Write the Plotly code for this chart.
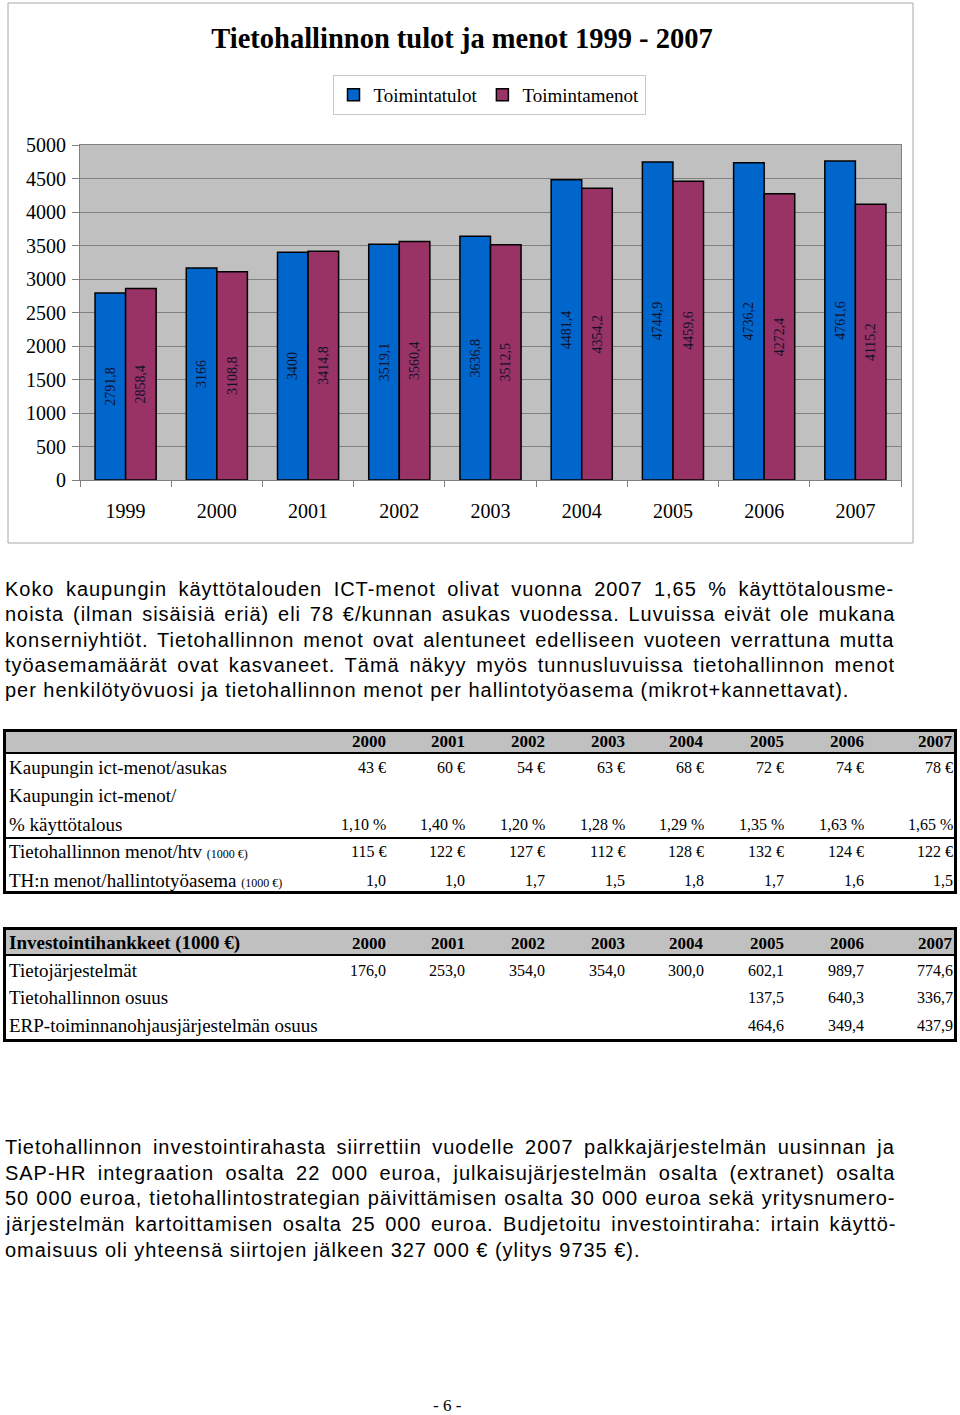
import plotly.graph_objects as go

# ---------------- data ----------------
years = ['1999', '2000', '2001', '2002', '2003', '2004', '2005', '2006', '2007']
tulot = [2791.8, 3166, 3400, 3519.1, 3636.8, 4481.4, 4744.9, 4736.2, 4761.6]
menot = [2858.4, 3108.8, 3414.8, 3560.4, 3512.5, 4354.2, 4459.6, 4272.4, 4115.2]
series_names = ['Toimintatulot', 'Toimintamenot']
y_ticks = [0, 500, 1000, 1500, 2000, 2500, 3000, 3500, 4000, 4500, 5000]

tbl_years = ['2000', '2001', '2002', '2003', '2004', '2005', '2006', '2007']
ict_per_capita = [43, 60, 54, 63, 68, 72, 74, 78]
ict_pct = [1.10, 1.40, 1.20, 1.28, 1.29, 1.35, 1.63, 1.65]
th_per_htv = [115, 122, 127, 112, 128, 132, 124, 122]
th_per_ws = [1.0, 1.0, 1.7, 1.5, 1.8, 1.7, 1.6, 1.5]

inv_tietojarj = [176.0, 253.0, 354.0, 354.0, 300.0, 602.1, 989.7, 774.6]
inv_th = [None, None, None, None, None, 137.5, 640.3, 336.7]
inv_erp = [None, None, None, None, None, 464.6, 349.4, 437.9]

para1 = [
    "Koko kaupungin käyttötalouden ICT-menot olivat vuonna 2007 1,65 % käyttötalousme-",
    "noista (ilman sisäisiä eriä) eli 78 €/kunnan asukas vuodessa. Luvuissa eivät ole mukana",
    "konserniyhtiöt. Tietohallinnon menot ovat alentuneet edelliseen vuoteen verrattuna mutta",
    "työasemamäärät ovat kasvaneet. Tämä näkyy myös tunnusluvuissa tietohallinnon menot",
    "per henkilötyövuosi ja tietohallinnon menot per hallintotyöasema (mikrot+kannettavat).",
]
para2 = [
    "Tietohallinnon investointirahasta siirrettiin vuodelle 2007 palkkajärjestelmän uusinnan ja",
    "SAP-HR integraation osalta 22 000 euroa, julkaisujärjestelmän osalta (extranet) osalta",
    "50 000 euroa, tietohallintostrategian päivittämisen osalta 30 000 euroa sekä yritysnumero-",
    "järjestelmän kartoittamisen osalta 25 000 euroa. Budjetoitu investointiraha: irtain käyttö-",
    "omaisuus oli yhteensä siirtojen jälkeen 327 000 € (ylitys 9735 €).",
]

# ---------------- helpers ----------------
W, H = 960, 1415
SERIF = "Liberation Serif, Times New Roman, serif"
SANS = "Liberation Sans, Arial, sans-serif"


def px(x):
    return x / W


def py(y):
    return 1 - y / H


_AW = {' ': 278, '(': 333, ')': 333, '+': 584, ',': 278, '-': 333, '.': 278, '/': 278,
       ':': 278, '%': 889, '€': 556,
       'A': 667, 'B': 667, 'C': 722, 'D': 722, 'E': 667, 'F': 611, 'G': 778, 'H': 722,
       'I': 278, 'J': 500, 'K': 667, 'L': 556, 'M': 833, 'N': 722, 'O': 778, 'P': 667,
       'R': 722, 'S': 667, 'T': 611, 'U': 722, 'V': 667, 'W': 944, 'Y': 667,
       'a': 556, 'b': 556, 'c': 500, 'd': 556, 'e': 556, 'f': 278, 'g': 556, 'h': 556,
       'i': 222, 'j': 222, 'k': 500, 'l': 222, 'm': 833, 'n': 556, 'o': 556, 'p': 556,
       'q': 556, 'r': 333, 's': 500, 't': 278, 'u': 556, 'v': 500, 'w': 722, 'x': 500,
       'y': 500, 'z': 500, 'ä': 556, 'ö': 556, 'å': 556, 'Ä': 667, 'Ö': 778}


def text_w(s, fs, ls):
    return sum(_AW.get(c, 556) for c in s) * fs / 1000.0 + ls * len(s)


def fmt(v, nd):
    return f"{v:.{nd}f}".replace('.', ',')


# ---------------- figure ----------------
fig = go.Figure()
colors = ['#0066CC', '#993366']
for name, vals, col in zip(series_names, [tulot, menot], colors):
    fig.add_trace(go.Bar(
        x=years, y=vals, name=name,
        marker=dict(color=col, line=dict(color='#000000', width=1.5)),
        text=[f"{v:g}".replace('.', ',') for v in vals],
        textposition='inside', insidetextanchor='middle', textangle=-90,
        textfont=dict(family=SERIF, size=14, color='#10102a'),
        constraintext='none',
    ))

fig.update_layout(
    width=W, height=H, margin=dict(l=0, r=0, t=0, b=0, autoexpand=False),
    paper_bgcolor='white', plot_bgcolor='#C0C0C0',
    barmode='group', bargap=0.33, bargroupgap=0,
    title=dict(text='<b>Tietohallinnon tulot ja menot 1999 - 2007</b>',
               x=px(462), y=py(38), xref='paper', yref='paper',
               xanchor='center', yanchor='middle',
               font=dict(family=SERIF, size=28.5, color='black')),
    legend=dict(orientation='h', x=px(489), y=py(95), xanchor='center', yanchor='middle',
                bgcolor='white', bordercolor='#C8C8C8', borderwidth=1,
                font=dict(family=SERIF, size=19, color='black'),
                itemwidth=30, tracegroupgap=0),
    xaxis=dict(domain=[px(80), px(901)], type='category', automargin=False,
               showline=True, linecolor='#808080', linewidth=1, mirror=True,
               ticks='outside', tickson='boundaries', ticklen=6, tickcolor='#808080',
               ticklabelstandoff=13,
               tickfont=dict(family=SERIF, size=20, color='black'), showgrid=False),
    yaxis=dict(domain=[py(480), py(145)], range=[0, 5000], tickvals=y_ticks, automargin=False,
               showline=True, linecolor='#808080', linewidth=1, mirror=True,
               ticks='outside', ticklen=7, tickcolor='#808080', ticklabelstandoff=2,
               showgrid=True, gridcolor='#808080', gridwidth=1, zeroline=False,
               tickfont=dict(family=SERIF, size=20, color='black')),
)

shapes = []
annotations = []

# chart frame
shapes.append(dict(type='rect', xref='paper', yref='paper', x0=px(8), x1=px(913),
                   y0=py(543), y1=py(3), line=dict(color='#A8A8A8', width=1)))

# ---------------- paragraphs (justified) ----------------
PFS = 20
last_target = 844
PLS = (last_target - text_w(para1[-1], PFS, 0)) / len(para1[-1])


def add_paragraph(lines, y0, step):
    for i, line in enumerate(lines):
        justify = i < len(lines) - 1
        style = f"letter-spacing:{PLS:.2f}px"
        if justify:
            nat = text_w(line, PFS, PLS)
            nsp = line.count(' ')
            ws = (890 - nat) / nsp if nsp else 0
            style += f";word-spacing:{ws:.2f}px"
        annotations.append(dict(
            xref='paper', yref='paper', x=px(3), y=py(y0 + i * step),
            xanchor='left', yanchor='middle', showarrow=False,
            text=f"<span style='{style}'>{line}</span>",
            font=dict(family=SANS, size=PFS, color='black')))


add_paragraph(para1, 589, 25.25)
add_paragraph(para2, 1147, 25.7)

# ---------------- tables ----------------
col_right = [388, 467, 547, 627, 706, 786, 866, 955]
LBL = dict(family=SERIF, size=19, color='black')
NUM = dict(family=SERIF, size=16, color='black')
HDR = dict(family=SERIF, size=17, color='black')


def cell(x, y, text, font, anchor='right'):
    annotations.append(dict(xref='paper', yref='paper', x=px(x), y=py(y),
                            xanchor=anchor, yanchor='middle', showarrow=False,
                            text=text, font=font))


def table_frame(top, hdr_bottom, bottom, seps):
    shapes.append(dict(type='rect', xref='paper', yref='paper', x0=px(4), x1=px(956),
                       y0=py(hdr_bottom), y1=py(top), fillcolor='#C0C0C0',
                       line=dict(width=0), layer='below'))
    shapes.append(dict(type='line', xref='paper', yref='paper', x0=px(4), x1=px(956),
                       y0=py(hdr_bottom), y1=py(hdr_bottom),
                       line=dict(color='black', width=2)))
    for s in seps:
        shapes.append(dict(type='line', xref='paper', yref='paper', x0=px(4), x1=px(956),
                           y0=py(s), y1=py(s), line=dict(color='black', width=2)))
    shapes.append(dict(type='rect', xref='paper', yref='paper', x0=px(4.5), x1=px(955.5),
                       y0=py(bottom), y1=py(top), line=dict(color='black', width=3)))


# table 1
table_frame(730.5, 753, 892.5, [838])
for j, yr in enumerate(tbl_years):
    cell(col_right[j], 741, f"<b>{yr}</b>", HDR)
rows1 = [768, 796, 824, 851, 880]
cell(7, rows1[0], "Kaupungin ict-menot/asukas", LBL, 'left')
cell(7, rows1[1], "Kaupungin ict-menot/", LBL, 'left')
cell(7, rows1[2], "% käyttötalous", LBL, 'left')
cell(7, rows1[3], "Tietohallinnon menot/htv <span style='font-size:12px'>(1000 €)</span>", LBL, 'left')
cell(7, rows1[4], "TH:n menot/hallintotyöasema <span style='font-size:12px'>(1000 €)</span>", LBL, 'left')
for j in range(len(tbl_years)):
    cell(col_right[j], rows1[0], f"{ict_per_capita[j]} €", NUM)
    cell(col_right[j], rows1[2], f"{fmt(ict_pct[j], 2)} %", NUM)
    cell(col_right[j], rows1[3], f"{th_per_htv[j]} €", NUM)
    cell(col_right[j], rows1[4], fmt(th_per_ws[j], 1), NUM)

# table 2
table_frame(928.5, 955, 1040.5, [])
cell(7, 943, "<b>Investointihankkeet (1000 €)</b>", LBL, 'left')
for j, yr in enumerate(tbl_years):
    cell(col_right[j], 943, f"<b>{yr}</b>", HDR)
rows2 = [970, 997, 1025]
cell(7, rows2[0], "Tietojärjestelmät", LBL, 'left')
cell(7, rows2[1], "Tietohallinnon osuus", LBL, 'left')
cell(7, rows2[2], "ERP-toiminnanohjausjärjestelmän osuus", LBL, 'left')
for j in range(len(tbl_years)):
    for r, arr in zip(rows2, [inv_tietojarj, inv_th, inv_erp]):
        if arr[j] is not None:
            cell(col_right[j], r, fmt(arr[j], 1), NUM)

# page number
cell(447, 1405, "- 6 -", dict(family=SERIF, size=17, color='black'), 'center')

fig.update_layout(shapes=shapes, annotations=annotations)
fig.write_html("out.html", config=dict(displayModeBar=False),
               post_script="document.body.style.margin='0';")
